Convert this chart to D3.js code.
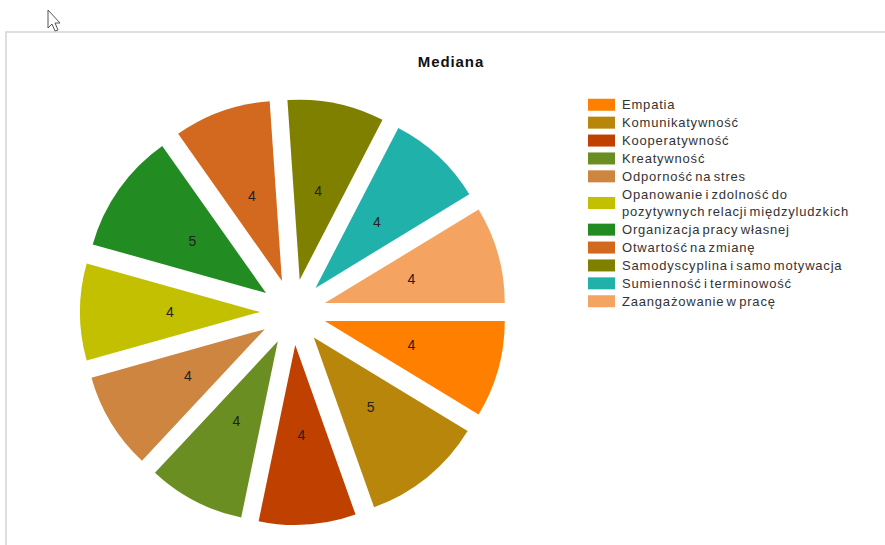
<!DOCTYPE html>
<html>
<head>
<meta charset="utf-8">
<script src="https://cdn.jsdelivr.net/npm/d3@7"></script>
<style>
  body { margin: 0; background: #fff; }
  svg { display: block; font-family: "Liberation Sans", Arial, sans-serif; }
</style>
</head>
<body>
<svg class="piechart" width="885" height="545"></svg>
<script>
// data
let categories = [
  "Empatia",
  "Komunikatywność",
  "Kooperatywność",
  "Kreatywność",
  "Odporność na stres",
  "Opanowanie i zdolność do\npozytywnych relacji międzyludzkich",
  "Organizacja pracy własnej",
  "Otwartość na zmianę",
  "Samodyscyplina i samo motywacja",
  "Sumienność i terminowość",
  "Zaangażowanie w pracę"
];
let medians = [4, 5, 4, 4, 4, 4, 5, 4, 4, 4, 4];
let colors = [
  "#ff8000", "#b8860b", "#c04000", "#6b8e23", "#cd853f", "#c2c000",
  "#228b22", "#d2691e", "#808000", "#20b2aa", "#f4a460"
];
let title = "Mediana";

let data = categories.map((c, i) => ({name: c, value: medians[i]}));

let svg = d3.select("body").select(".piechart");

// page frame
svg.append("path")
  .attr("d", "M6,545 L6,32 L885,32")
  .attr("fill", "none")
  .attr("stroke", "#d4d4d4")
  .attr("stroke-width", 1.5);

// mouse pointer in the screenshot
svg.append("path")
  .attr("d", "M48,10 L48,28 L52,24 L55,31 L58,30 L55,23 L60,23 Z")
  .attr("fill", "#fff")
  .attr("stroke", "#555")
  .attr("stroke-width", 1);

svg.append("text")
  .attr("x", 451)
  .attr("y", 67)
  .attr("text-anchor", "middle")
  .style("font-size", "15px")
  .style("font-weight", "bold")
  .style("letter-spacing", "0.9px")
  .style("fill", "#111")
  .text(title);

let center = {x: 293, y: 312};
let radius = 180;
let explode = 33;

let color = d3.scaleOrdinal().domain(categories).range(colors);

let pie = d3.pie()
  .value(d => d.value)
  .sort(null)
  .startAngle(Math.PI / 2)
  .endAngle(Math.PI / 2 + 2 * Math.PI);

let arc = d3.arc().innerRadius(0).outerRadius(radius);

let plot = svg.append("g").attr("id", "plot")
  .attr("transform", translate(center.x, center.y));

let slices = plot.selectAll("g.slice")
  .data(pie(data))
  .join("g")
  .attr("class", "slice")
  .attr("transform", d => {
    let a = (d.startAngle + d.endAngle) / 2;
    return translate(explode * Math.sin(a), -explode * Math.cos(a));
  });

slices.append("path")
  .attr("d", arc)
  .attr("fill", d => color(d.data.name));

slices.append("text")
  .attr("transform", d => {
    let a = (d.startAngle + d.endAngle) / 2;
    let r = radius / 2;
    return translate(r * Math.sin(a), -r * Math.cos(a));
  })
  .attr("text-anchor", "middle")
  .attr("dy", "0.35em")
  .style("font-size", "14px")
  .style("fill", "#222")
  .text(d => d.data.value);

// legend
let legend = svg.append("g").attr("id", "legend").attr("transform", translate(588, 96));
let rowY = 0;
categories.forEach((c, i) => {
  let lines = c.split("\n");
  let h = lines.length * 17.5;
  let g = legend.append("g").attr("transform", translate(0, rowY));
  g.append("rect")
    .attr("x", 0)
    .attr("y", h / 2 - 6)
    .attr("width", 27)
    .attr("height", 12)
    .attr("fill", colors[i]);
  lines.forEach((ln, j) => {
    g.append("text")
      .attr("x", 34)
      .attr("y", j * 17.5 + 13)
      .style("font-size", "13px")
      .style("letter-spacing", "0.8px")
      .style("word-spacing", "-2px")
      .style("fill", "#333")
      .text(ln);
  });
  rowY += h + 0.4;
});

function translate(x, y) {
  return 'translate(' + x + ',' + y + ')';
}
</script>
</body>
</html>
